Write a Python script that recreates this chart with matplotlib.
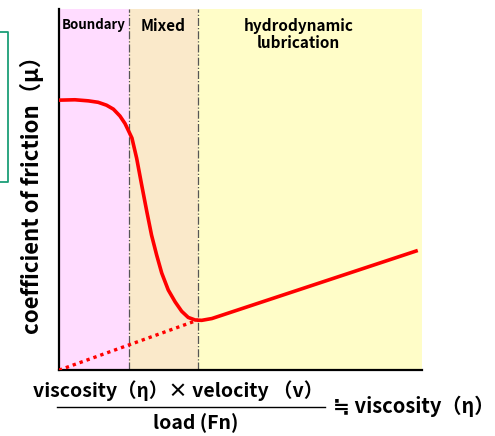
import matplotlib
matplotlib.use("Agg")
import matplotlib.pyplot as plt
from matplotlib.lines import Line2D

plt.rcParams['font.family'] = ['Noto Sans CJK JP', 'DejaVu Sans']

# regime boundaries (arbitrary units, x axis 0..100)
regions = ["Boundary", "Mixed", "hydrodynamic\nlubrication"]
region_edges = [0, 19.3, 38.3, 100]
region_colors = ["#FFDCFF", "#FAE9CA", "#FFFDC8"]

# Stribeck curve
curve_x = [0.3, 4.4, 8.1, 10.8, 13.1, 15.0, 16.8, 18.2, 19.3, 20.1, 21.4, 22.8, 24.2,
           25.5, 26.9, 28.3, 30.1, 32.0, 33.8, 35.6, 37.5, 39.3, 42.1, 98.3]
curve_y = [74.8, 74.9, 74.6, 74.2, 73.4, 72.3, 70.4, 68.3, 66.0, 64.3, 58.7, 51.2, 43.9,
           37.4, 31.9, 26.9, 22.2, 18.9, 16.3, 14.6, 13.9, 13.8, 14.3, 33.0]

# dotted extrapolation of the hydrodynamic line back to the origin
dot_x = [0, 38.3]
dot_y = [0, 13.9]

fig = plt.figure(figsize=(4.95, 4.36), dpi=100)
ax = fig.add_axes([0.119, 0.151, 0.734, 0.828])

for i in range(len(regions)):
    ax.axvspan(region_edges[i], region_edges[i + 1], color=region_colors[i], lw=0, zorder=0)
for e in region_edges[1:3]:
    ax.axvline(e, color="#555555", lw=0.9, ls="-.", zorder=1)

ax.plot(curve_x, curve_y, color="#FF0000", lw=2.6, solid_joinstyle="round", zorder=3)
ax.plot(dot_x, dot_y, color="#FF0000", lw=2.4, ls=(0, (1, 1.2)), zorder=3)

ax.text(9.6, 97.5, regions[0], ha="center", va="top", fontsize=9.5, fontweight="bold")
ax.text(28.8, 97.5, regions[1], ha="center", va="top", fontsize=11, fontweight="bold")
ax.text(66, 97.5, regions[2], ha="center", va="top", fontsize=11, fontweight="bold",
        linespacing=1.1)

ax.set_xlim(0, 100)
ax.set_ylim(0, 100)
ax.set_xticks([])
ax.set_yticks([])
for s in ["top", "right"]:
    ax.spines[s].set_visible(False)
ax.spines["left"].set_linewidth(1.6)
ax.spines["bottom"].set_linewidth(1.6)

ax.set_ylabel("coefficient of friction（μ）", fontsize=16, fontweight="bold", labelpad=11)

# x label as a fraction
fig.text(0.359, 0.105, "viscosity（η）× velocity （v）", ha="center", va="center",
         fontsize=14, fontweight="bold")
fig.add_artist(Line2D([0.115, 0.657], [0.066, 0.066], color="black", lw=1.0))
fig.text(0.395, 0.030, "load (Fn)", ha="center", va="center", fontsize=14, fontweight="bold")
fig.text(0.672, 0.068, "≒ viscosity（η）", ha="left", va="center", fontsize=14.5, fontweight="bold")

# green bracket cut at the left edge
green = "#1B9E77"
fig.add_artist(Line2D([0, 0.017, 0.017, 0], [1 - 32 / 436, 1 - 32 / 436, 1 - 182 / 436, 1 - 182 / 436],
                      color=green, lw=1.3))

fig.savefig("out.png", dpi=100)
